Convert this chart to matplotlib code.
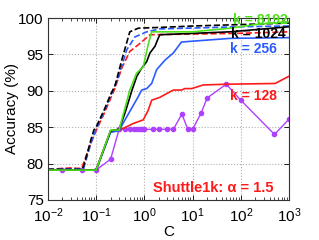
import matplotlib
matplotlib.use("Agg")
import matplotlib.pyplot as plt
from matplotlib.ticker import LogLocator, NullFormatter

plt.rcParams['font.family'] = ['Liberation Sans', 'DejaVu Sans']
plt.rcParams['mathtext.fontset'] = 'custom'
plt.rcParams['mathtext.rm'] = 'Liberation Sans'
plt.rcParams['mathtext.it'] = 'Liberation Sans:italic'
plt.rcParams['mathtext.bf'] = 'Liberation Sans:bold'

# ---- data ----
dash_black_C = [0.01, 0.05, 0.055, 0.08, 0.09, 0.1, 0.15, 0.2, 0.245, 0.34, 0.5, 0.75, 2, 10, 100, 1000]
dash_black_A = [79.2, 79.2, 79.6, 83.5, 84.6, 85.0, 87.5, 89.5, 90.6, 94.2, 98.1, 98.6, 98.7, 98.9, 99.1, 99.3]

dash_blue_C = [0.01, 0.055, 0.08, 0.1, 0.15, 0.2, 0.29, 0.43, 0.64, 1.12, 2.1, 100, 1000]
dash_blue_A = [79.2, 79.3, 83.0, 84.7, 87.3, 89.3, 91.9, 95.6, 97.4, 98.1, 98.5, 98.8, 98.9]

dash_red_C = [0.01, 0.03, 0.05, 0.08, 0.1, 0.15, 0.245, 0.34, 0.5, 0.81, 1.31, 100, 1000]
dash_red_A = [79.2, 79.4, 79.3, 83.0, 84.5, 87.0, 90.3, 93.1, 95.4, 96.5, 97.7, 97.9, 98.1]

green_C = [0.01, 0.1, 0.2, 0.3, 0.5, 0.69, 0.95, 1.2, 1.42, 10, 60, 200, 1000]
green_A = [79.1, 79.1, 84.6, 84.6, 90.1, 92.4, 93.3, 96.3, 98.1, 98.1, 98.6, 99.1, 99.5]

black_C = [0.01, 0.1, 0.2, 0.3, 0.4, 0.55, 0.7, 0.88, 1.12, 1.31, 1.66, 1.94, 2.1, 60, 1000]
black_A = [79.1, 79.1, 84.5, 84.7, 87.0, 90.0, 92.0, 93.1, 94.0, 95.2, 96.1, 97.2, 97.7, 98.1, 98.8]

blue_C = [0.01, 0.1, 0.2, 0.3, 0.36, 0.75, 0.88, 1.12, 1.42, 1.8, 2.67, 4.0, 5.9, 60, 1000]
blue_A = [79.1, 79.1, 84.3, 84.5, 85.5, 89.2, 90.1, 90.3, 91.0, 92.9, 94.2, 95.2, 96.7, 97.2, 97.3]

red_C = [0.01, 0.1, 0.2, 0.3, 0.36, 0.59, 0.95, 1.2, 1.42, 2.1, 4.0, 5.9, 6.95, 9.6, 16.7, 51, 513, 1000]
red_A = [79.1, 79.1, 84.5, 84.6, 84.8, 85.5, 86.0, 87.3, 88.7, 89.1, 90.1, 90.1, 90.3, 90.3, 90.8, 90.9, 91.0, 92.0]

purple_C = [0.02, 0.05, 0.1, 0.2, 0.3, 0.4, 0.5, 0.6, 0.7, 0.8, 0.9, 1, 1.5, 2, 3, 4,
            6, 8, 10, 15, 20, 50, 100, 500, 1000]
purple_A = [79.1, 79.1, 79.1, 80.6, 84.7, 84.7, 84.7, 84.7, 84.7, 84.7, 84.7, 84.7, 84.7, 84.7, 84.7, 84.7,
            86.8, 84.7, 84.7, 86.9, 89.0, 90.9, 88.7, 84.0, 86.1]

labels = ["k = 8192", "k = 1024", "k = 256", "k = 128"]
title_text = "Shuttle1k: \u03b1 = 1.5"

GREEN = '#4ee01a'
BLACK = '#000000'
BLUE = '#2a5cff'
RED = '#ff1a1a'
PURPLE = '#b040ff'

fig = plt.figure(figsize=(3.19, 2.40), dpi=100)
ax = fig.add_axes([0.150, 0.167, 0.756, 0.758])

lw = 1.2
ax.plot(purple_C, purple_A, '-', color=PURPLE, lw=1.0, marker='o', ms=3, mec=PURPLE, mfc=PURPLE)
ax.plot(dash_red_C, dash_red_A, '--', color=RED, lw=lw)
ax.plot(dash_blue_C, dash_blue_A, '--', color=BLUE, lw=lw)
ax.plot(dash_black_C, dash_black_A, '--', color=BLACK, lw=lw)
ax.plot(red_C, red_A, '-', color=RED, lw=lw)
ax.plot(blue_C, blue_A, '-', color=BLUE, lw=lw)
ax.plot(black_C, black_A, '-', color=BLACK, lw=lw)
ax.plot(green_C, green_A, '-', color=GREEN, lw=lw)

ax.set_xscale('log')
ax.set_xlim(0.01, 1000)
ax.set_ylim(75, 100)
ax.set_yticks([75, 80, 85, 90, 95, 100])
ax.xaxis.set_major_locator(LogLocator(base=10, numticks=10))
ax.xaxis.set_minor_locator(LogLocator(base=10, subs=range(2, 10), numticks=20))
ax.xaxis.set_minor_formatter(NullFormatter())

ax.grid(True, which='major', linestyle=':', color='#b0b0b0', lw=0.8)
ax.tick_params(which='both', direction='in', top=True, right=True, labelsize=11)
ax.tick_params(axis='y', pad=3)
ax.tick_params(axis='x', pad=5)
ax.tick_params(which='major', length=3.5, width=0.6)
ax.tick_params(which='minor', length=2, width=0.5)
for lab in ax.get_yticklabels():
    lab.set_verticalalignment('center_baseline')
for s in ax.spines.values():
    s.set_linewidth(0.8)
    s.set_color('#333333')

ax.set_ylabel("Accuracy (%)", fontsize=11)
ax.yaxis.set_label_coords(-0.118, 0.5)
ax.set_xlabel("C", fontsize=11, labelpad=0)

fs = 10
ax.text(69, 99.7, labels[0], color=GREEN, fontsize=fs, fontweight='bold', va='center', ha='left')
ax.text(62, 97.8, labels[1], color=BLACK, fontsize=fs, fontweight='bold', va='center', ha='left')
ax.text(61, 95.7, labels[2], color=BLUE, fontsize=fs, fontweight='bold', va='center', ha='left')
ax.text(61, 89.3, labels[3], color=RED, fontsize=fs, fontweight='bold', va='center', ha='left')
ax.text(466, 76.6, title_text, color=RED, fontsize=10.5, fontweight='bold', va='center', ha='right')

fig.savefig("out.png", dpi=100)
